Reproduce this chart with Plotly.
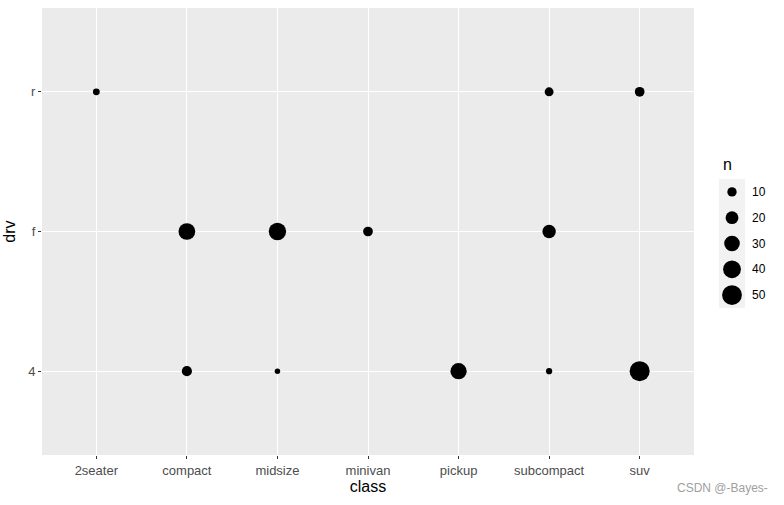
import numpy as np
import plotly.graph_objects as go

classes = ["2seater", "compact", "midsize", "minivan", "pickup", "subcompact", "suv"]
drv_levels = ["4", "f", "r"]

pt_class = ["2seater", "compact", "compact", "midsize", "midsize", "minivan", "pickup",
            "subcompact", "subcompact", "subcompact", "suv", "suv"]
pt_drv = ["r", "4", "f", "4", "f", "f", "4", "4", "f", "r", "4", "r"]
pt_n = [5, 12, 35, 3, 38, 11, 33, 4, 22, 9, 51, 11]

legend_breaks = [10, 20, 30, 40, 50]

nmin, nmax = min(pt_n), max(pt_n)


def size_px(n):
    s = 1 + 5 * (np.sqrt(n) - np.sqrt(nmin)) / (np.sqrt(nmax) - np.sqrt(nmin))
    return 2.9 * s + 2.6


W, H = 784, 505
ML, MR, MT, MB = 42, 10, 8, 50
PW, PH = W - ML - MR, H - MT - MB
L, R, T, B = 42, 694, 8, 455


def px(xp):
    return (xp - ML) / PW


def py(yp):
    return (H - MB - yp) / PH


fig = go.Figure()
fig.add_trace(go.Scatter(
    x=pt_class, y=pt_drv, mode="markers",
    marker=dict(color="black", opacity=1, size=[size_px(v) for v in pt_n], line=dict(width=0)),
    showlegend=False, hoverinfo="x+y+text", text=[str(v) for v in pt_n],
))

fig.add_trace(go.Scatter(
    x=[0] * len(legend_breaks), y=list(range(len(legend_breaks))), mode="markers",
    marker=dict(color="black", opacity=1, size=[size_px(v) for v in legend_breaks], line=dict(width=0)),
    xaxis="x2", yaxis="y2", showlegend=False, hoverinfo="skip",
))

tick_font = dict(family="Liberation Sans, Arial, sans-serif", size=13, color="#4D4D4D")
kx0, kx1, ky0, ky1 = 719, 745, 179, 308

fig.update_layout(
    width=W, height=H,
    margin=dict(l=ML, r=MR, t=MT, b=MB),
    paper_bgcolor="white",
    plot_bgcolor="#EBEBEB",
    font=dict(family="Liberation Sans, Arial, sans-serif"),
    xaxis=dict(
        type="category", categoryorder="array", categoryarray=classes,
        range=[-0.6, len(classes) - 0.4],
        showgrid=True, gridcolor="white", gridwidth=1.1, zeroline=False,
        ticks="outside", ticklen=3, tickcolor="#333333", tickwidth=1,
        tickfont=tick_font, showline=False,
        title=dict(text="class", font=dict(size=16, color="black"), standoff=4),
        domain=[px(L), px(R)], anchor="y",
    ),
    yaxis=dict(
        type="category", categoryorder="array", categoryarray=drv_levels,
        range=[-0.6, len(drv_levels) - 0.4],
        showgrid=True, gridcolor="white", gridwidth=1.1, zeroline=False,
        ticks="outside", ticklen=3, tickcolor="#333333", tickwidth=1,
        tickfont=tick_font, showline=False,
        title=dict(text="drv", font=dict(size=16, color="black"), standoff=8),
        domain=[py(B), py(T)], anchor="x",
    ),
    xaxis2=dict(
        domain=[px(kx0), px(kx1)], anchor="y2",
        range=[-1, 1], visible=False, fixedrange=True,
    ),
    yaxis2=dict(
        domain=[py(ky1), py(ky0)], anchor="x2",
        range=[len(legend_breaks) - 0.5, -0.5], visible=False, fixedrange=True,
    ),
)

fig.add_shape(type="rect", xref="x2 domain", yref="y2 domain", x0=0, x1=1, y0=0, y1=1,
              fillcolor="#F2F2F2", line=dict(width=0), layer="below")

for i, b in enumerate(legend_breaks):
    fig.add_annotation(x=1.0, y=i, xref="x2", yref="y2", xanchor="left", xshift=5,
                       text=str(b), showarrow=False,
                       font=dict(family="Liberation Sans, Arial, sans-serif", size=12, color="black"))

fig.add_annotation(x=px(kx0), y=py(164), xref="paper", yref="paper",
                   xanchor="left", yanchor="middle", text="n", showarrow=False, xshift=2,
                   font=dict(family="Liberation Sans, Arial, sans-serif", size=16, color="black"))

fig.add_annotation(x=px(770), y=py(488), xref="paper", yref="paper",
                   xanchor="right", yanchor="middle", text="CSDN @-Bayes-", showarrow=False,
                   font=dict(family="Liberation Sans, Arial, sans-serif", size=12, color="#A0A0A0"))

fig.write_html("out.html")
